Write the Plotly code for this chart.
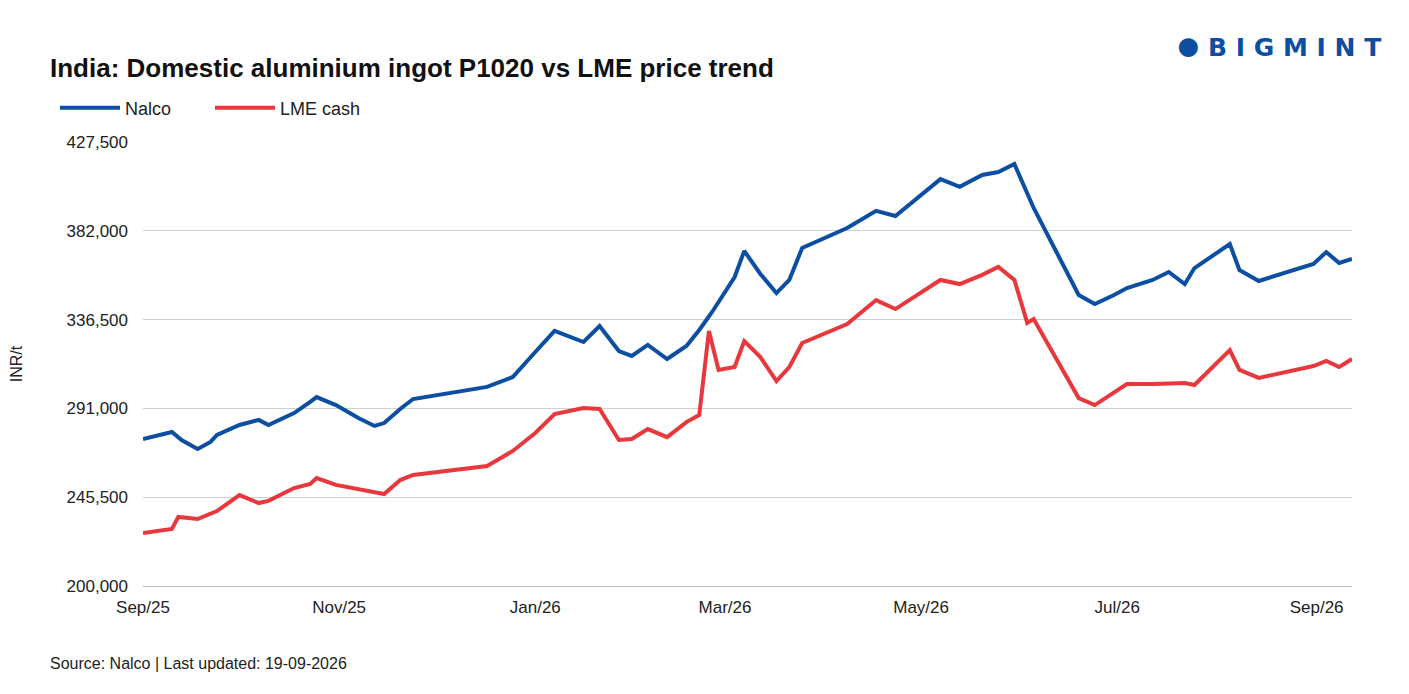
import plotly.graph_objects as go

nalco_dates = ["2025-09-01", "2025-09-10", "2025-09-13", "2025-09-18", "2025-09-22", "2025-09-24",
               "2025-10-01", "2025-10-07", "2025-10-10", "2025-10-18", "2025-10-23", "2025-10-25", "2025-10-31",
               "2025-11-07", "2025-11-12", "2025-11-15", "2025-11-20", "2025-11-24",
               "2025-12-17", "2025-12-25",
               "2026-01-01", "2026-01-07", "2026-01-16", "2026-01-21", "2026-01-27", "2026-01-31",
               "2026-02-05", "2026-02-11", "2026-02-17", "2026-02-21", "2026-02-25",
               "2026-03-04", "2026-03-07", "2026-03-12", "2026-03-17", "2026-03-21", "2026-03-25",
               "2026-04-08", "2026-04-17", "2026-04-23",
               "2026-05-07", "2026-05-13", "2026-05-20", "2026-05-25", "2026-05-30",
               "2026-06-05", "2026-06-19", "2026-06-24", "2026-06-30",
               "2026-07-04", "2026-07-12", "2026-07-17", "2026-07-22", "2026-07-25",
               "2026-08-05", "2026-08-08", "2026-08-14", "2026-08-31",
               "2026-09-04", "2026-09-08", "2026-09-12"]
nalco = [275300, 278900, 274800, 270200, 273800, 277400,
         282500, 285100, 282500, 288600, 294300, 296800, 292700,
         286100, 282000, 283500, 290700, 295800,
         302000, 307100,
         319900, 330700, 325000, 333200, 320400, 317900,
         323500, 316300, 323000, 331200, 340400,
         358300, 371700, 359900, 350100, 356800, 373200,
         383400, 392200, 389600,
         408500, 404500, 410600, 412100, 416200,
         393700, 349100, 344500, 349100,
         352700, 356800, 360900, 354700, 362900,
         375200, 361900, 356300, 365000,
         371100, 365500, 367600]

lme_dates = ["2025-09-01", "2025-09-10", "2025-09-12", "2025-09-18", "2025-09-24",
             "2025-10-01", "2025-10-07", "2025-10-10", "2025-10-18", "2025-10-23", "2025-10-25", "2025-10-31",
             "2025-11-15", "2025-11-20", "2025-11-24",
             "2025-12-17", "2025-12-25",
             "2026-01-01", "2026-01-07", "2026-01-16", "2026-01-21", "2026-01-27", "2026-01-31",
             "2026-02-05", "2026-02-11", "2026-02-17", "2026-02-21", "2026-02-24", "2026-02-27",
             "2026-03-04", "2026-03-07", "2026-03-12", "2026-03-17", "2026-03-21", "2026-03-25",
             "2026-04-08", "2026-04-17", "2026-04-23",
             "2026-05-07", "2026-05-13", "2026-05-20", "2026-05-25", "2026-05-30",
             "2026-06-03", "2026-06-05", "2026-06-19", "2026-06-24", "2026-06-30",
             "2026-07-04", "2026-07-12", "2026-07-17", "2026-07-22", "2026-07-25",
             "2026-08-05", "2026-08-08", "2026-08-14", "2026-08-31",
             "2026-09-04", "2026-09-08", "2026-09-12"]
lme = [227200, 229200, 235400, 234300, 238400,
       246600, 242500, 243600, 250200, 252300, 255300, 251800,
       247100, 254300, 256900,
       261500, 269200,
       278400, 288100, 291200, 290700, 274800, 275300,
       280400, 276300, 284000, 287600, 330700, 310700,
       312200, 325500, 317300, 305000, 312200, 324500,
       334200, 346500, 341900,
       356800, 354700, 359400, 363500, 356800,
       334800, 336800, 296300, 292700, 298900,
       303500, 303500, 304000, 304000, 303000,
       320900, 310700, 306600, 312700,
       315300, 312200, 316300]

y_ticks = [200000, 245500, 291000, 336500, 382000, 427500]

fig = go.Figure()
fig.add_trace(go.Scatter(x=nalco_dates, y=nalco, mode="lines", name="Nalco",
                         line=dict(color="#0B4EA2", width=4)))
fig.add_trace(go.Scatter(x=lme_dates, y=lme, mode="lines", name="LME cash",
                         line=dict(color="#E8383D", width=4)))

fig.update_layout(
    width=1409, height=694,
    paper_bgcolor="white", plot_bgcolor="white",
    margin=dict(l=135, r=65, t=134, b=116, autoexpand=False),
    font=dict(family="Liberation Sans, Arial", size=17, color="#222"),
    title=dict(text="<b>India: Domestic aluminium ingot P1020 vs LME price trend</b>",
               x=42 / 1409, xanchor="left", y=1 - 60 / 694, yanchor="middle",
               font=dict(size=26, color="#111"), automargin=False),
    legend=dict(orientation="h", xref="container", x=47 / 1409, yref="container", y=1 - 100 / 694,
                xanchor="left", yanchor="middle", font=dict(size=18), itemwidth=60,
                entrywidth=80, traceorder="normal"),
    showlegend=True,
)
fig.update_xaxes(type="date", range=["2025-09-01", "2026-09-12"], dtick="M2",
                 tick0="2025-09-01", tickformat="%b/%y", showgrid=False,
                 showline=True, linecolor="#bbb", linewidth=1, ticks="",
                 ticklabelstandoff=6, automargin=False, tickfont=dict(size=17))
fig.update_yaxes(range=[200000, 427500], tickvals=y_ticks,
                 ticktext=[f"{v:,}" for v in y_ticks],
                 gridcolor="#d0d0d0", gridwidth=1, zeroline=False, ticklabelstandoff=14,
                 automargin=False,
                 title=dict(text="INR/t", font=dict(size=16), standoff=42),
                 tickfont=dict(size=17))

fig.add_annotation(text="Source: Nalco | Last updated: 19-09-2026", xref="paper", yref="paper",
                   x=-95 / 1209, y=-77 / 444, xanchor="left", yanchor="middle",
                   showarrow=False, font=dict(size=16, color="#222"))
fig.add_annotation(text="<b>B I G M I N T</b>", xref="paper", yref="paper",
                   x=1 + 31 / 1209, y=1 + 95 / 444, xanchor="right", yanchor="middle",
                   showarrow=False, font=dict(size=25, color="#0B4EA2", family="DejaVu Sans"))
fig.add_annotation(text="\u25CF", xref="paper", yref="paper",
                   x=(1188 - 143) / 1209, y=1 + 98 / 444, xanchor="center", yanchor="middle",
                   showarrow=False, font=dict(size=44, color="#0B4EA2"))

fig.write_html("out.html")
